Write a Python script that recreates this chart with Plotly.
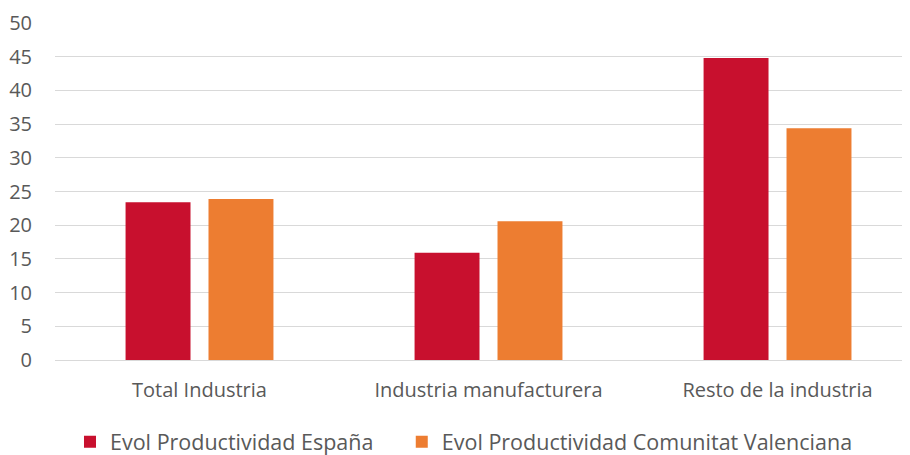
import plotly.graph_objects as go

categories = ["Total Industria", "Industria manufacturera", "Resto de la industria"]
espana = [23.4, 15.9, 44.8]
valenciana = [23.9, 20.6, 34.4]
series_names = ["Evol Productividad España", "Evol Productividad Comunitat Valenciana"]
yticks = [0, 5, 10, 15, 20, 25, 30, 35, 40, 45, 50]

fig = go.Figure()
fig.add_trace(go.Bar(x=categories, y=espana, name=series_names[0], legend="legend",
                     marker=dict(color="#C8102E", line=dict(width=0))))
fig.add_trace(go.Bar(x=categories, y=valenciana, name=series_names[1], legend="legend2",
                     marker=dict(color="#ED7D31", line=dict(width=0))))

font_family = "'Open Sans', sans-serif"
fs = 20
lfs = 21.5
leg_common = dict(orientation="h", xanchor="left", y=-0.243, yanchor="middle",
                  font=dict(size=lfs, color="#595959"), itemwidth=30,
                  bgcolor="rgba(0,0,0,0)")
fig.update_layout(
    width=910, height=455,
    margin=dict(l=47, r=11, t=15, b=103, autoexpand=False),
    plot_bgcolor="white", paper_bgcolor="white",
    barmode="group", bargap=0.426, bargroupgap=0.217,
    font=dict(family=font_family, size=fs, color="#595959"),
    showlegend=True,
    legend=dict(x=0.0176, **leg_common),
    legend2=dict(x=0.407, **leg_common),
    xaxis=dict(range=[-0.5, 2.448], showgrid=False, showline=False, ticks="",
               ticklabelstandoff=16, automargin=False,
               tickfont=dict(size=fs, color="#595959")),
    yaxis=dict(range=[0, 50], tickvals=yticks, showgrid=True, gridcolor="#D9D9D9",
               gridwidth=1.3, zeroline=True, zerolinecolor="#D9D9D9", zerolinewidth=1.3,
               ticks="", ticklabelstandoff=22, automargin=False,
               tickfont=dict(size=fs, color="#595959")),
)
fig.write_html("out.html")
